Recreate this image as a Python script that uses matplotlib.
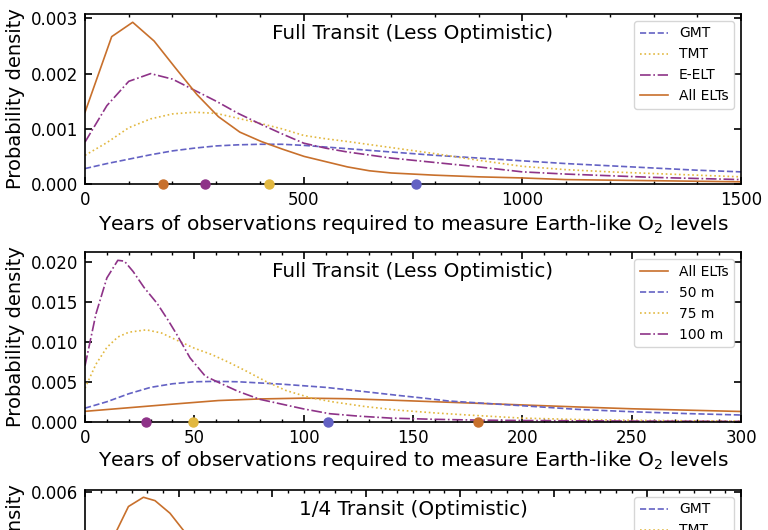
import numpy as np
import matplotlib
matplotlib.use("Agg")
import matplotlib.pyplot as plt
from matplotlib.ticker import MultipleLocator

# colours per series
C_ALL = '#c8702c'
C_GMT = '#6462c4'
C_TMT = '#e2b840'
C_EELT = '#8e3388'

# ---- panel 1 : Full Transit (Less Optimistic), telescopes
p1_x = [0, 50, 100, 150, 200, 250, 300, 350, 400, 450, 500, 550, 600, 700, 800, 900, 1000, 1100, 1200, 1300, 1400, 1500]
p1_gmt = [0.28, 0.37, 0.45, 0.53, 0.60, 0.65, 0.69, 0.71, 0.72, 0.72, 0.70, 0.67, 0.64, 0.58, 0.52, 0.47, 0.42, 0.37, 0.33, 0.29, 0.25, 0.22]
p1_tmt = [0.52, 0.75, 1.02, 1.18, 1.27, 1.30, 1.28, 1.19, 1.10, 1.00, 0.88, 0.82, 0.77, 0.66, 0.55, 0.43, 0.32, 0.26, 0.22, 0.19, 0.16, 0.13]
p1_eelt = [0.76, 1.42, 1.86, 2.00, 1.90, 1.70, 1.50, 1.28, 1.09, 0.91, 0.74, 0.65, 0.58, 0.47, 0.39, 0.31, 0.22, 0.18, 0.15, 0.12, 0.10, 0.08]
p1_all_x = [0, 61, 109, 158, 207, 256, 305, 354, 403, 452, 501, 600, 650, 700, 800, 900, 1000, 1100, 1200, 1300, 1400, 1500]
p1_all = [1.30, 2.67, 2.93, 2.59, 2.10, 1.62, 1.22, 0.94, 0.77, 0.63, 0.50, 0.31, 0.24, 0.20, 0.16, 0.13, 0.11, 0.08, 0.07, 0.06, 0.05, 0.04]
p1_medians = {'All ELTs': 179, 'E-ELT': 274, 'TMT': 421, 'GMT': 757}

# ---- panel 2 : Full Transit (Less Optimistic), aperture sizes
p2_all_x = [0, 20, 40, 61, 80, 100, 120, 140, 160, 180, 200, 225, 250, 275, 300]
p2_all = [1.3, 1.75, 2.2, 2.65, 2.85, 2.95, 2.88, 2.7, 2.5, 2.3, 2.1, 1.85, 1.62, 1.45, 1.28]
p2_50_x = [0, 10, 20, 30, 40, 50, 60, 70, 80, 90, 100, 110, 120, 130, 143, 155, 166, 180, 200, 225, 250, 275, 300]
p2_50 = [1.7, 2.5, 3.5, 4.3, 4.75, 5.0, 5.05, 5.0, 4.85, 4.7, 4.5, 4.3, 4.0, 3.7, 3.3, 2.95, 2.6, 2.35, 2.0, 1.55, 1.25, 1.02, 0.84]
p2_75_x = [0, 5, 10, 15, 20, 28, 35, 42, 50, 58, 66, 74, 83, 92, 103, 113, 128, 143, 160, 175, 200, 225, 250, 275, 300]
p2_75 = [4.2, 7.2, 9.3, 10.6, 11.2, 11.5, 11.1, 10.2, 9.2, 8.4, 7.4, 6.3, 5.0, 3.9, 3.0, 2.5, 1.9, 1.45, 1.1, 0.84, 0.45, 0.28, 0.18, 0.12, 0.08]
p2_100_x = [0, 5, 10, 15, 18, 22, 27, 33, 38, 42, 48, 55, 62, 70, 80, 90, 100, 112, 125, 140, 160, 180, 200, 250, 300]
p2_100 = [7.0, 13.5, 18.0, 20.2, 20.1, 18.8, 16.8, 14.8, 12.7, 10.9, 8.0, 5.7, 4.8, 3.8, 2.8, 2.2, 1.6, 1.0, 0.7, 0.45, 0.3, 0.2, 0.15, 0.08, 0.04]
p2_medians = {'100 m': 27.8, '75 m': 49.2, '50 m': 111.3, 'All ELTs': 179.7}

# ---- panel 3 : 1/4 Transit (Optimistic) -- only the top is in frame
p3_all_x = [0, 4.5, 9.0, 13.9, 18.7, 22.4, 27.2, 31.0, 36, 45, 60, 80, 100, 130, 160, 210]
p3_all = [1.6, 3.0, 4.36, 5.48, 5.81, 5.69, 5.24, 4.70, 4.0, 3.0, 1.9, 1.1, 0.7, 0.4, 0.25, 0.12]
p3_x = [0, 10, 20, 30, 45, 60, 80, 100, 130, 160, 210]
p3_gmt = [0.5, 0.9, 1.2, 1.35, 1.4, 1.35, 1.2, 1.0, 0.8, 0.6, 0.4]
p3_tmt = [0.9, 1.8, 2.3, 2.4, 2.2, 1.9, 1.5, 1.1, 0.7, 0.45, 0.25]
p3_eelt = [1.5, 3.2, 3.9, 3.6, 2.8, 2.0, 1.3, 0.8, 0.45, 0.25, 0.1]

xlabel = 'Years of observations required to measure Earth-like O$_2$ levels'

fig = plt.figure(figsize=(7.68, 5.3), dpi=100)
ax1 = fig.add_axes([0.1107, 0.6528, 0.8542, 0.3208])
ax2 = fig.add_axes([0.1107, 0.2043, 0.8542, 0.3196])
ax3 = fig.add_axes([0.1107, -0.2453, 0.8542, 0.3208])


def style(ax, major, minor):
    ax.xaxis.set_major_locator(MultipleLocator(major))
    ax.xaxis.set_minor_locator(MultipleLocator(minor))
    ax.tick_params(which='both', direction='in', top=True, right=True, labelsize=12, pad=5)
    ax.tick_params(which='major', length=5, width=1.2)
    ax.tick_params(which='minor', length=2.5, width=1.0)
    for s in ax.spines.values():
        s.set_linewidth(1.2)
    ax.set_ylabel('Probability density', fontsize=14)


def medians(ax, meds, cols):
    for k, v in meds.items():
        ax.plot([v], [0], 'o', color=cols[k], ms=6.5, clip_on=False, zorder=5)


e = 1e-3
lw = 1.2

# panel 1
ax1.plot(p1_x, np.array(p1_gmt) * e, '--', color=C_GMT, lw=lw, label='GMT')
ax1.plot(p1_x, np.array(p1_tmt) * e, ':', color=C_TMT, lw=lw, label='TMT')
ax1.plot(p1_x, np.array(p1_eelt) * e, '-.', color=C_EELT, lw=lw, label='E-ELT')
ax1.plot(p1_all_x, np.array(p1_all) * e, '-', color=C_ALL, lw=lw, label='All ELTs')
medians(ax1, p1_medians, {'All ELTs': C_ALL, 'E-ELT': C_EELT, 'TMT': C_TMT, 'GMT': C_GMT})
ax1.set_xlim(0, 1500)
ax1.set_ylim(0, 0.00308)
ax1.yaxis.set_major_locator(MultipleLocator(0.001))
style(ax1, 500, 100)
ax1.set_xlabel(xlabel, fontsize=14.5, labelpad=3)
ax1.text(0.5, 0.885, 'Full Transit (Less Optimistic)', transform=ax1.transAxes,
         ha='center', va='center', fontsize=14.4)
ax1.legend(loc='upper right', fontsize=10)

# panel 2
ax2.plot(p2_all_x, np.array(p2_all) * e, '-', color=C_ALL, lw=lw, label='All ELTs')
ax2.plot(p2_50_x, np.array(p2_50) * e, '--', color=C_GMT, lw=lw, label='50 m')
ax2.plot(p2_75_x, np.array(p2_75) * e, ':', color=C_TMT, lw=lw, label='75 m')
ax2.plot(p2_100_x, np.array(p2_100) * e, '-.', color=C_EELT, lw=lw, label='100 m')
medians(ax2, p2_medians, {'100 m': C_EELT, '75 m': C_TMT, '50 m': C_GMT, 'All ELTs': C_ALL})
ax2.set_xlim(0, 300)
ax2.set_ylim(0, 0.0212)
ax2.yaxis.set_major_locator(MultipleLocator(0.005))
style(ax2, 50, 10)
ax2.set_xlabel(xlabel, fontsize=14.5, labelpad=2)
ax2.text(0.5, 0.885, 'Full Transit (Less Optimistic)', transform=ax2.transAxes,
         ha='center', va='center', fontsize=14.4)
ax2.legend(loc='upper right', fontsize=10)

# panel 3 (runs off the bottom of the frame, as in the cropped original)
ax3.plot(p3_x, np.array(p3_gmt) * e, '--', color=C_GMT, lw=lw, label='GMT')
ax3.plot(p3_x, np.array(p3_tmt) * e, ':', color=C_TMT, lw=lw, label='TMT')
ax3.plot(p3_x, np.array(p3_eelt) * e, '-.', color=C_EELT, lw=lw, label='E-ELT')
ax3.plot(p3_all_x, np.array(p3_all) * e, '-', color=C_ALL, lw=lw, label='All ELTs')
ax3.set_xlim(0, 210)
ax3.set_ylim(0, 0.00607)
ax3.set_yticks([0.006])
style(ax3, 30, 5)
ax3.tick_params(labelbottom=False)
ax3.text(0.5, 0.885, '1/4 Transit (Optimistic)', transform=ax3.transAxes,
         ha='center', va='center', fontsize=14.4)
ax3.legend(loc='upper right', fontsize=10)

fig.savefig('out.png', dpi=100)
